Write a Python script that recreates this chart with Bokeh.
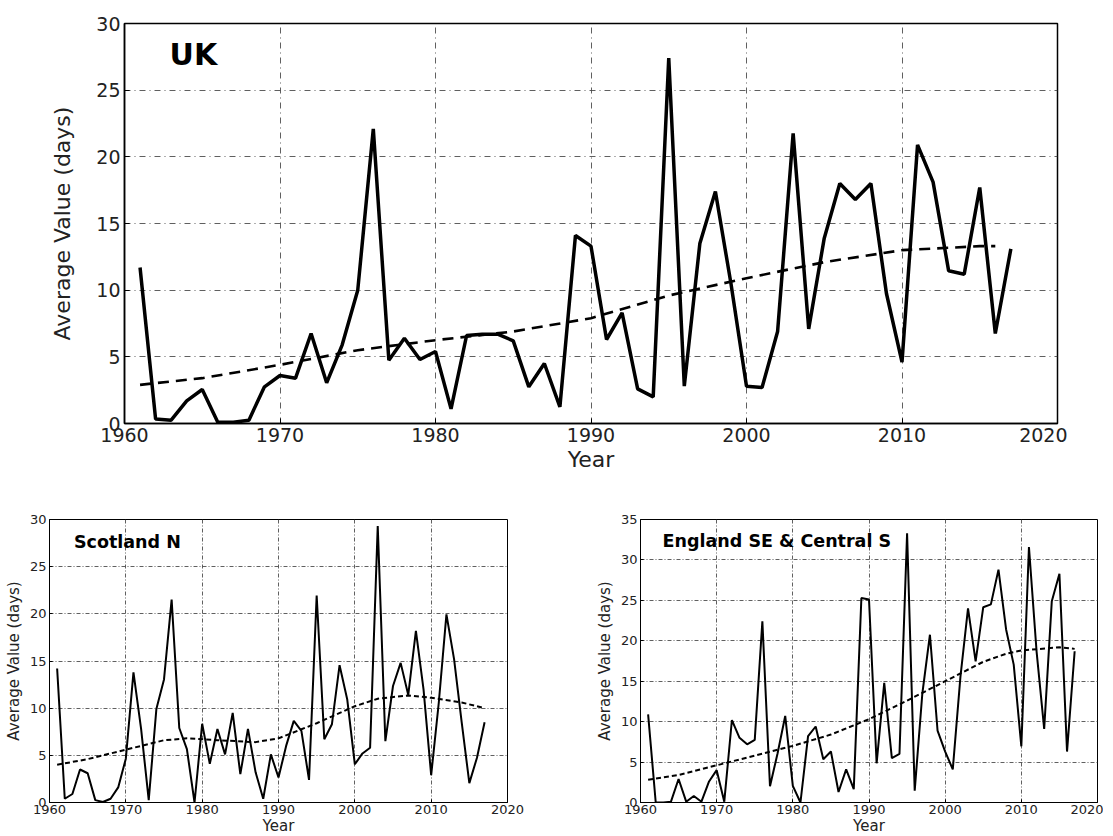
from bokeh.plotting import figure
from bokeh.layouts import column, row
from bokeh.models import Range1d, FixedTicker, Label
from bokeh.embed import file_html
from bokeh.resources import INLINE

years = list(range(1961, 2018))

uk_values = [11.7, 0.33, 0.25, 1.7, 2.55, 0.1, 0.1, 0.25, 2.75, 3.6,
             3.4, 6.75, 3.05, 5.9, 10.0, 22.1, 4.75, 6.4, 4.8, 5.4,
             1.1, 6.6, 6.7, 6.7, 6.2, 2.75, 4.5, 1.25, 14.1, 13.3,
             6.3, 8.3, 2.6, 2.0, 27.4, 2.8, 13.5, 17.4, 10.5, 2.8,
             2.7, 6.9, 21.75, 7.1, 13.9, 18.0, 16.8, 18.0, 9.75, 4.6,
             20.9, 18.1, 11.45, 11.2, 17.7, 6.75, 13.1]
uk_trend_years = [1961, 1965, 1970, 1975, 1980, 1985, 1990, 1995, 2000, 2005, 2010, 2015, 2016]
uk_trend = [2.9, 3.4, 4.4, 5.5, 6.25, 6.9, 7.9, 9.6, 10.9, 12.1, 13.0, 13.3, 13.3]

scot_values = [14.2, 0.4, 0.9, 3.5, 3.1, 0.25, 0.05, 0.4, 1.6, 4.65,
               13.8, 7.8, 0.25, 9.9, 13.05, 21.5, 7.9, 5.65, 0.0, 8.35,
               4.1, 7.8, 5.1, 9.5, 3.0, 7.8, 3.2, 0.4, 5.1, 2.65,
               6.0, 8.65, 7.6, 2.4, 21.95, 6.7, 8.3, 14.55, 10.95, 4.05,
               5.2, 5.8, 29.3, 6.5, 12.35, 14.8, 11.4, 18.2, 12.0, 2.9,
               10.6, 19.95, 15.2, 8.5, 2.05, 4.75, 8.5]
scot_trend_years = [1961, 1965, 1970, 1975, 1978, 1982, 1987, 1990, 1995, 2000, 2003, 2007, 2010, 2014, 2017]
scot_trend = [4.0, 4.6, 5.6, 6.6, 6.8, 6.6, 6.4, 6.8, 8.4, 10.2, 11.0, 11.35, 11.1, 10.6, 10.0]

eng_values = [10.9, 0.0, 0.0, 0.1, 2.9, 0.1, 0.8, 0.1, 2.6, 4.0,
              0.1, 10.2, 8.0, 7.2, 7.75, 22.4, 2.0, 6.1, 10.7, 2.05,
              0.0, 8.2, 9.4, 5.35, 6.3, 1.3, 4.1, 1.65, 25.3, 25.1,
              4.85, 14.8, 5.5, 6.0, 33.3, 1.45, 13.45, 20.75, 8.9, 6.3,
              4.1, 15.5, 24.0, 17.45, 24.15, 24.5, 28.8, 21.4, 17.05, 6.95,
              31.6, 18.7, 9.1, 24.9, 28.3, 6.3, 18.7]
eng_trend_years = [1961, 1965, 1970, 1975, 1980, 1985, 1990, 1995, 2000, 2005, 2008, 2010, 2015, 2017]
eng_trend = [2.8, 3.4, 4.6, 5.8, 7.0, 8.4, 10.3, 12.6, 15.0, 17.4, 18.4, 18.8, 19.2, 19.0]

x_ticks = [1960, 1970, 1980, 1990, 2000, 2010, 2020]

FONT = "DejaVu Sans"


def make_panel(title, values, trend_years, trend, ymax, ystep,
               frame_w, frame_h, borders, big):
    p = figure(frame_width=frame_w, frame_height=frame_h,
               x_range=Range1d(1960, 2020), y_range=Range1d(0, ymax),
               output_backend="svg", toolbar_location=None,
               min_border_left=borders[0], min_border_right=borders[1],
               min_border_top=borders[2], min_border_bottom=borders[3])
    p.background_fill_color = "white"
    p.border_fill_color = "white"
    p.outline_line_color = "black"
    p.outline_line_width = 1.5 if big else 1
    p.outline_line_alpha = 1

    tick_size = "19px" if big else "13px"
    label_size = "22px" if big else "15px"
    for ax in (p.xaxis[0], p.yaxis[0]):
        ax.major_label_text_font = FONT
        ax.major_label_text_font_size = tick_size
        ax.major_label_text_color = "#222222"
        ax.axis_label_text_font = FONT
        ax.axis_label_text_font_size = label_size
        ax.axis_label_text_font_style = "normal"
        ax.axis_label_text_color = "#222222"
        ax.axis_line_color = "black"
        ax.axis_line_width = 1.5 if big else 1
        ax.major_tick_in = 5 if big else 3
        ax.major_tick_out = 0
        ax.minor_tick_line_color = None
        ax.major_tick_line_color = "black"
    p.xaxis.ticker = FixedTicker(ticks=x_ticks)
    p.yaxis.ticker = FixedTicker(ticks=list(range(0, ymax + 1, ystep)))
    p.xaxis.axis_label = "Year"
    p.yaxis.axis_label = "Average Value (days)"
    p.xaxis.major_label_standoff = 4 if big else 2
    p.xaxis.axis_label_standoff = 2 if big else 0
    p.yaxis.major_label_standoff = 4 if big else 3
    p.yaxis.axis_label_standoff = 18 if big else 4

    grid_dash = "6 4 1 4" if big else "4 2 1 2"
    for g in (p.xgrid[0], p.ygrid[0]):
        g.grid_line_color = "#444444"
        g.grid_line_width = 1
        g.grid_line_alpha = 0.85
        g.grid_line_dash = grid_dash

    p.line(years, values, line_color="black", line_width=3.5 if big else 2)
    p.line(trend_years, trend, line_color="black",
           line_width=2.6 if big else 2,
           line_dash="11 7" if big else "5 3")

    lab = Label(x=0, y=0, text=title, text_font=FONT,
                text_font_size="30px" if big else "17.5px",
                text_font_style="bold", text_color="black",
                text_baseline="middle", text_align="left")
    p.add_layout(lab)
    return p, lab


top, lab_top = make_panel("UK", uk_values, uk_trend_years, uk_trend, 30, 5,
                          933, 400, (124, 10, 23, 77), True)
lab_top.x = 1962.9
lab_top.y = 27.7

bl, lab_bl = make_panel("Scotland N", scot_values, scot_trend_years, scot_trend, 30, 5,
                        458, 283, (49, 40, 17, 29), False)
lab_bl.x = 1963.2
lab_bl.y = 27.6

br, lab_br = make_panel("England SE & Central S", eng_values, eng_trend_years, eng_trend, 35, 5,
                        457, 283, (93, 6, 19, 27), False)
lab_br.x = 1962.9
lab_br.y = 32.3

layout = column(top, row(bl, br, spacing=0), spacing=0)

open("out.html", "w").write(file_html(layout, INLINE))
